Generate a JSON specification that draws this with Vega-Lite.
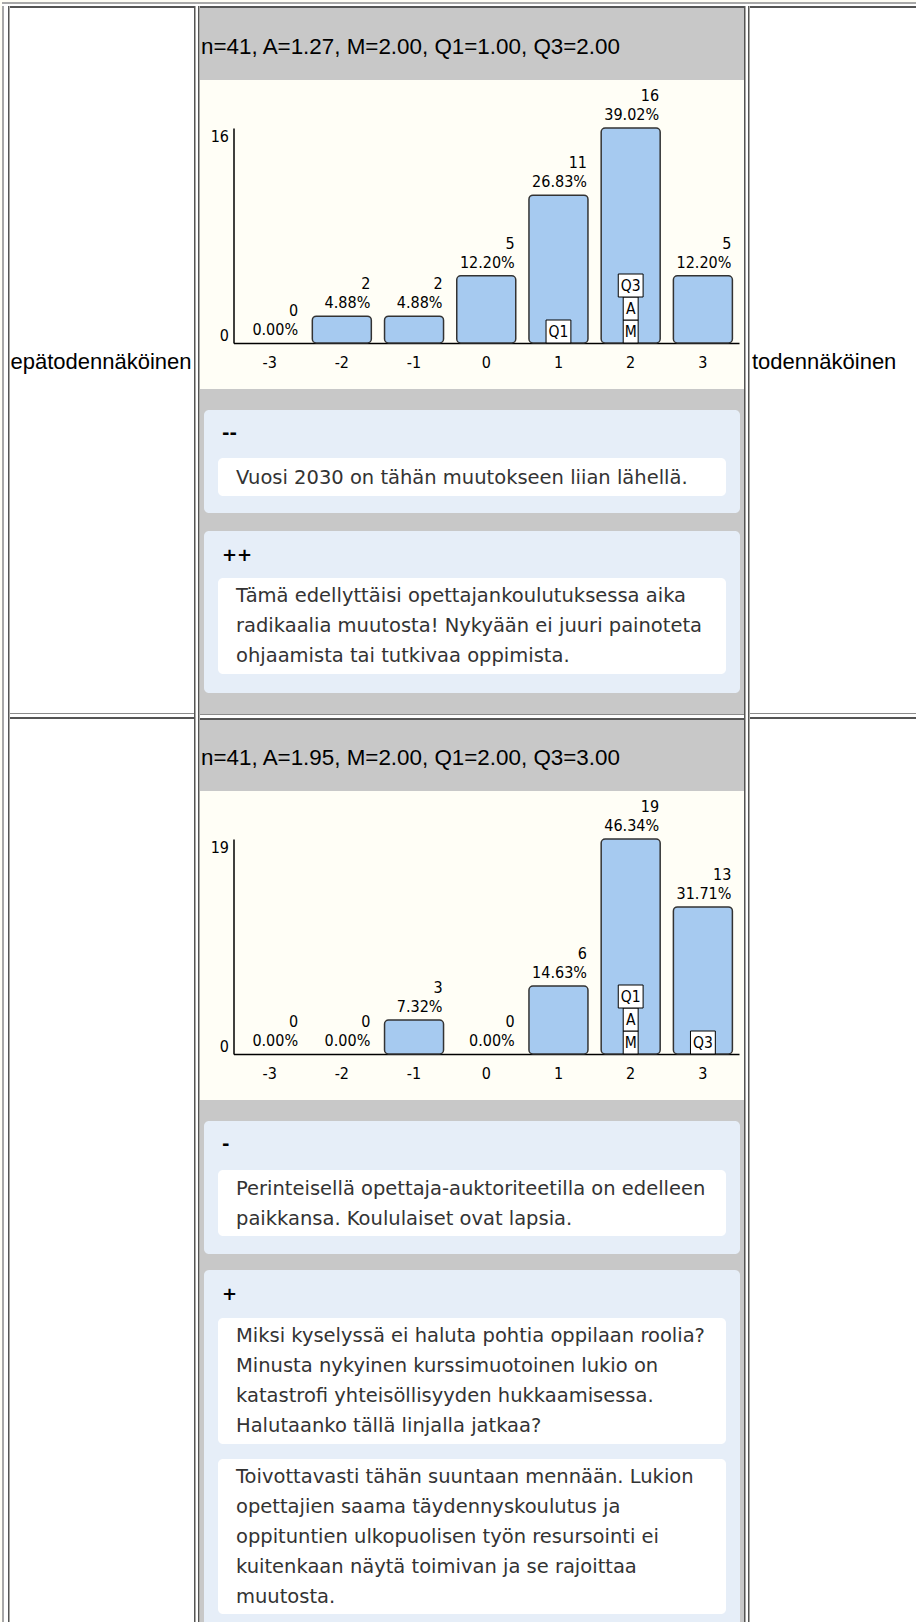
{
  "$schema": "https://vega.github.io/schema/vega-lite/v6.json",
  "background": "#fffef6",
  "padding": {"left": 2, "top": 2, "right": 0, "bottom": 0},
  "spacing": 0,
  "config": {
    "view": {"stroke": null},
    "font": "Liberation Sans",
    "axis": {"grid": false, "ticks": false, "domainColor": "#000000", "domainWidth": 1.5, "labelColor": "#000000", "labelFont": "Liberation Sans Narrow, DejaVu Sans Condensed, Liberation Sans", "labelFontSize": 16},
    "axisX": {"labelAngle": 0, "labelPadding": 11, "minExtent": 46, "maxExtent": 46},
    "axisY": {"labelPadding": 5, "labelFlush": true, "offset": -33.5, "minExtent": 0, "maxExtent": 0}
  },
  "datasets": {
    "ends": [
      {"side": "left", "label": "epätodennäköinen"},
      {"side": "right", "label": "todennäköinen"}
    ],
    "stats": [
      {"q": 1, "text": "n=41, A=1.27, M=2.00, Q1=1.00, Q3=2.00"},
      {"q": 2, "text": "n=41, A=1.95, M=2.00, Q1=2.00, Q3=3.00"}
    ],
    "hist": [
      {"q": 1, "value": "-3", "count": 0, "pct": "0.00%"},
      {"q": 1, "value": "-2", "count": 2, "pct": "4.88%"},
      {"q": 1, "value": "-1", "count": 2, "pct": "4.88%"},
      {"q": 1, "value": "0", "count": 5, "pct": "12.20%"},
      {"q": 1, "value": "1", "count": 11, "pct": "26.83%"},
      {"q": 1, "value": "2", "count": 16, "pct": "39.02%"},
      {"q": 1, "value": "3", "count": 5, "pct": "12.20%"},
      {"q": 2, "value": "-3", "count": 0, "pct": "0.00%"},
      {"q": 2, "value": "-2", "count": 0, "pct": "0.00%"},
      {"q": 2, "value": "-1", "count": 3, "pct": "7.32%"},
      {"q": 2, "value": "0", "count": 0, "pct": "0.00%"},
      {"q": 2, "value": "1", "count": 6, "pct": "14.63%"},
      {"q": 2, "value": "2", "count": 19, "pct": "46.34%"},
      {"q": 2, "value": "3", "count": 13, "pct": "31.71%"}
    ],
    "stat_marks": [
      {"q": 1, "value": "1", "marker": "Q1", "level": 0},
      {"q": 1, "value": "2", "marker": "M", "level": 0},
      {"q": 1, "value": "2", "marker": "A", "level": 1},
      {"q": 1, "value": "2", "marker": "Q3", "level": 2},
      {"q": 2, "value": "2", "marker": "M", "level": 0},
      {"q": 2, "value": "2", "marker": "A", "level": 1},
      {"q": 2, "value": "2", "marker": "Q1", "level": 2},
      {"q": 2, "value": "3", "marker": "Q3", "level": 0}
    ],
    "groups": [
      {"id": "g1", "q": 1, "sign": "--"},
      {"id": "g2", "q": 1, "sign": "++"},
      {"id": "g3", "q": 2, "sign": "-"},
      {"id": "g4", "q": 2, "sign": "+"}
    ],
    "comments": [
      {"id": "c1", "group": "g1", "text": "Vuosi 2030 on tähän muutokseen liian lähellä."},
      {"id": "c2", "group": "g2", "text": "Tämä edellyttäisi opettajankoulutuksessa aika\nradikaalia muutosta! Nykyään ei juuri painoteta\nohjaamista tai tutkivaa oppimista."},
      {"id": "c3", "group": "g3", "text": "Perinteisellä opettaja-auktoriteetilla on edelleen\npaikkansa. Koululaiset ovat lapsia."},
      {"id": "c4", "group": "g4", "text": "Miksi kyselyssä ei haluta pohtia oppilaan roolia?\nMinusta nykyinen kurssimuotoinen lukio on\nkatastrofi yhteisöllisyyden hukkaamisessa.\nHalutaanko tällä linjalla jatkaa?"},
      {"id": "c5", "group": "g4", "text": "Toivottavasti tähän suuntaan mennään. Lukion\nopettajien saama täydennyskoulutus ja\noppituntien ulkopuolisen työn resursointi ei\nkuitenkaan näytä toimivan ja se rajoittaa\nmuutosta."}
    ]
  },
  "vconcat": [
    {"width": 914, "height": 2, "view": {"fill": "#a8a8a8", "stroke": null}, "data": {"values": []}, "mark": "point"},
    {"width": 914, "height": 2, "view": {"fill": "#ffffff", "stroke": null}, "data": {"values": []}, "mark": "point"},
    {
      "spacing": 0,
      "hconcat": [
        {"width": 2, "height": 1616, "view": {"fill": "#a8a8a8", "stroke": null}, "data": {"values": []}, "mark": "point"},
        {"width": 4, "height": 1616, "view": {"fill": "#ffffff", "stroke": null}, "data": {"values": []}, "mark": "point"},
        {"width": 1.5, "height": 1616, "view": {"fill": "#555555", "stroke": null}, "data": {"values": []}, "mark": "point"},
        {
          "spacing": 0,
          "vconcat": [
            {"width": 184, "height": 2, "view": {"fill": "#555555", "stroke": null}, "data": {"values": []}, "mark": "point"},
            {"width": 184, "height": 705, "view": {"fill": "#ffffff", "stroke": null},
             "data": {"name": "ends"}, "transform": [{"filter": "datum.side == 'left'"}],
             "mark": {"type": "text", "align": "left", "baseline": "middle", "dx": 0.5, "dy": 1, "font": "Liberation Sans", "fontSize": 22, "color": "#000000"},
             "encoding": {"x": {"value": 0}, "text": {"field": "label"}}},
            {"width": 184, "height": 1, "view": {"fill": "#8c8c8c", "stroke": null}, "data": {"values": []}, "mark": "point"},
            {"width": 184, "height": 3, "view": {"fill": "#ffffff", "stroke": null}, "data": {"values": []}, "mark": "point"},
            {"width": 184, "height": 2, "view": {"fill": "#555555", "stroke": null}, "data": {"values": []}, "mark": "point"},
            {"width": 184, "height": 903, "view": {"fill": "#ffffff", "stroke": null}, "data": {"values": []}, "mark": "point"}
          ]
        },
        {"width": 1.5, "height": 1616, "view": {"fill": "#555555", "stroke": null}, "data": {"values": []}, "mark": "point"},
        {"width": 2, "height": 1616, "view": {"fill": "#ffffff", "stroke": null}, "data": {"values": []}, "mark": "point"},
        {"width": 1.5, "height": 1616, "view": {"fill": "#555555", "stroke": null}, "data": {"values": []}, "mark": "point"},
        {
          "spacing": 0,
          "vconcat": [
            {"width": 544, "height": 2, "view": {"fill": "#555555", "stroke": null}, "data": {"values": []}, "mark": "point"},
            {"width": 544, "height": 72, "view": {"fill": "#c8c8c8", "stroke": null},
             "data": {"name": "stats"}, "transform": [{"filter": "datum.q == 1"}],
             "mark": {"type": "text", "align": "left", "baseline": "middle", "dx": 1, "dy": 3, "font": "Liberation Sans", "fontSize": 22.4, "color": "#000000"},
             "encoding": {"x": {"value": 0}, "text": {"field": "text"}}},
            {"width": 544, "height": 7.5, "data": {"values": []}, "mark": "point"},
            {
              "width": 544, "height": 215,
              "encoding": {
                "x": {"field": "value", "type": "ordinal", "title": null, "scale": {"domain": ["-3", "-2", "-1", "0", "1", "2", "3"], "range": [33.5, 539], "paddingInner": 0.183, "paddingOuter": 0.0915}},
                "y": {"field": "count", "type": "quantitative", "title": null, "scale": {"domain": [0, 16], "nice": false}, "axis": {"values": [0, 16]}}
              },
              "layer": [
                {"data": {"name": "hist"}, "transform": [{"filter": "datum.q == 1 && datum.count > 0"}],
                 "mark": {"type": "bar", "color": "#a6caf0", "stroke": "#333333", "strokeWidth": 1.5, "cornerRadius": 4},
                 "encoding": {"y2": {"datum": 0}}},
                {"data": {"name": "hist"}, "transform": [{"filter": "datum.q == 1"}],
                 "mark": {"type": "text", "align": "right", "baseline": "middle", "dx": 28.5, "dy": -13, "font": "Liberation Sans Narrow, DejaVu Sans Condensed, Liberation Sans", "fontSize": 16, "color": "#000000"},
                 "encoding": {"text": {"field": "pct"}}},
                {"data": {"name": "hist"}, "transform": [{"filter": "datum.q == 1"}],
                 "mark": {"type": "text", "align": "right", "baseline": "middle", "dx": 28.5, "dy": -32, "font": "Liberation Sans Narrow, DejaVu Sans Condensed, Liberation Sans", "fontSize": 16, "color": "#000000"},
                 "encoding": {"text": {"field": "count", "type": "quantitative"}}},
                {"data": {"name": "stat_marks"}, "transform": [{"filter": "datum.q == 1 && datum.level == 0"}],
                 "mark": {"type": "point", "filled": true, "fill": "#ffffff", "stroke": "#000000", "strokeWidth": 1, "opacity": 1, "size": 529, "yOffset": -11.5},
                 "encoding": {"y": {"value": "height"}, "shape": {"field": "marker", "type": "nominal", "legend": null, "scale": {"domain": ["Q1", "Q3", "A", "M"], "range": ["M-1.08,-1L1.08,-1L1.08,1L-1.08,1Z", "M-1.08,-1L1.08,-1L1.08,1L-1.08,1Z", "M-0.65,-1L0.65,-1L0.65,1L-0.65,1Z", "M-0.65,-1L0.65,-1L0.65,1L-0.65,1Z"]}}}},
                {"data": {"name": "stat_marks"}, "transform": [{"filter": "datum.q == 1 && datum.level == 1"}],
                 "mark": {"type": "point", "filled": true, "fill": "#ffffff", "stroke": "#000000", "strokeWidth": 1, "opacity": 1, "size": 529, "yOffset": -34.5},
                 "encoding": {"y": {"value": "height"}, "shape": {"field": "marker", "type": "nominal", "legend": null}}},
                {"data": {"name": "stat_marks"}, "transform": [{"filter": "datum.q == 1 && datum.level == 2"}],
                 "mark": {"type": "point", "filled": true, "fill": "#ffffff", "stroke": "#000000", "strokeWidth": 1, "opacity": 1, "size": 529, "yOffset": -57.5},
                 "encoding": {"y": {"value": "height"}, "shape": {"field": "marker", "type": "nominal", "legend": null}}},
                {"data": {"name": "stat_marks"}, "transform": [{"filter": "datum.q == 1 && datum.level == 0"}],
                 "mark": {"type": "text", "align": "center", "baseline": "middle", "dy": -11.5, "font": "Liberation Sans Narrow, DejaVu Sans Condensed, Liberation Sans", "fontSize": 15.5, "color": "#000000"},
                 "encoding": {"y": {"value": "height"}, "text": {"field": "marker"}}},
                {"data": {"name": "stat_marks"}, "transform": [{"filter": "datum.q == 1 && datum.level == 1"}],
                 "mark": {"type": "text", "align": "center", "baseline": "middle", "dy": -34.5, "font": "Liberation Sans Narrow, DejaVu Sans Condensed, Liberation Sans", "fontSize": 15.5, "color": "#000000"},
                 "encoding": {"y": {"value": "height"}, "text": {"field": "marker"}}},
                {"data": {"name": "stat_marks"}, "transform": [{"filter": "datum.q == 1 && datum.level == 2"}],
                 "mark": {"type": "text", "align": "center", "baseline": "middle", "dy": -57.5, "font": "Liberation Sans Narrow, DejaVu Sans Condensed, Liberation Sans", "fontSize": 15.5, "color": "#000000"},
                 "encoding": {"y": {"value": "height"}, "text": {"field": "marker"}}}
              ]
            },
            {
              "width": 544, "height": 133, "view": {"fill": "#c8c8c8", "stroke": null},
              "layer": [
                {"data": {"name": "groups"}, "transform": [{"filter": "datum.id == 'g1'"}],
                 "mark": {"type": "rect", "color": "#e6eef8", "cornerRadius": 5, "xOffset": 4, "x2Offset": -4, "yOffset": 21, "y2Offset": -9},
                 "encoding": {"x": {"value": 0}, "x2": {"value": "width"}, "y": {"value": 0}, "y2": {"value": "height"}}},
                {"data": {"name": "groups"}, "transform": [{"filter": "datum.id == 'g1'"}],
                 "mark": {"type": "text", "align": "left", "baseline": "middle", "dx": 22, "dy": 45, "font": "DejaVu Sans", "fontWeight": "bold", "fontSize": 18, "color": "#000000"},
                 "encoding": {"x": {"value": 0}, "y": {"value": 0}, "text": {"field": "sign"}}},
                {"data": {"name": "comments"}, "transform": [{"filter": "datum.id == 'c1'"}],
                 "mark": {"type": "rect", "color": "#ffffff", "cornerRadius": 5, "xOffset": 18, "x2Offset": -18, "yOffset": 69, "y2Offset": -26},
                 "encoding": {"x": {"value": 0}, "x2": {"value": "width"}, "y": {"value": 0}, "y2": {"value": "height"}}},
                {"data": {"name": "comments"}, "transform": [{"filter": "datum.id == 'c1'"}],
                 "mark": {"type": "text", "align": "left", "baseline": "middle", "lineBreak": "\n", "lineHeight": 30, "dx": 36, "dy": 89, "font": "DejaVu Sans", "fontSize": 19.5, "color": "#333333"},
                 "encoding": {"x": {"value": 0}, "y": {"value": 0}, "text": {"field": "text"}}}
              ]
            },
            {
              "width": 544, "height": 192, "view": {"fill": "#c8c8c8", "stroke": null},
              "layer": [
                {"data": {"name": "groups"}, "transform": [{"filter": "datum.id == 'g2'"}],
                 "mark": {"type": "rect", "color": "#e6eef8", "cornerRadius": 5, "xOffset": 4, "x2Offset": -4, "yOffset": 9, "y2Offset": -21},
                 "encoding": {"x": {"value": 0}, "x2": {"value": "width"}, "y": {"value": 0}, "y2": {"value": "height"}}},
                {"data": {"name": "groups"}, "transform": [{"filter": "datum.id == 'g2'"}],
                 "mark": {"type": "text", "align": "left", "baseline": "middle", "dx": 22, "dy": 34, "font": "DejaVu Sans", "fontWeight": "bold", "fontSize": 18, "color": "#000000"},
                 "encoding": {"x": {"value": 0}, "y": {"value": 0}, "text": {"field": "sign"}}},
                {"data": {"name": "comments"}, "transform": [{"filter": "datum.id == 'c2'"}],
                 "mark": {"type": "rect", "color": "#ffffff", "cornerRadius": 5, "xOffset": 18, "x2Offset": -18, "yOffset": 56, "y2Offset": -40},
                 "encoding": {"x": {"value": 0}, "x2": {"value": "width"}, "y": {"value": 0}, "y2": {"value": "height"}}},
                {"data": {"name": "comments"}, "transform": [{"filter": "datum.id == 'c2'"}],
                 "mark": {"type": "text", "align": "left", "baseline": "middle", "lineBreak": "\n", "lineHeight": 30, "dx": 36, "dy": 74, "font": "DejaVu Sans", "fontSize": 19.5, "color": "#333333"},
                 "encoding": {"x": {"value": 0}, "y": {"value": 0}, "text": {"field": "text"}}}
              ]
            },
            {"width": 544, "height": 1, "view": {"fill": "#8c8c8c", "stroke": null}, "data": {"values": []}, "mark": "point"},
            {"width": 544, "height": 3, "view": {"fill": "#ffffff", "stroke": null}, "data": {"values": []}, "mark": "point"},
            {"width": 544, "height": 2, "view": {"fill": "#555555", "stroke": null}, "data": {"values": []}, "mark": "point"},
            {"width": 544, "height": 71, "view": {"fill": "#c8c8c8", "stroke": null},
             "data": {"name": "stats"}, "transform": [{"filter": "datum.q == 2"}],
             "mark": {"type": "text", "align": "left", "baseline": "middle", "dx": 1, "dy": 2, "font": "Liberation Sans", "fontSize": 22.4, "color": "#000000"},
             "encoding": {"x": {"value": 0}, "text": {"field": "text"}}},
            {"width": 544, "height": 7.5, "data": {"values": []}, "mark": "point"},
            {
              "width": 544, "height": 215,
              "encoding": {
                "x": {"field": "value", "type": "ordinal", "title": null, "scale": {"domain": ["-3", "-2", "-1", "0", "1", "2", "3"], "range": [33.5, 539], "paddingInner": 0.183, "paddingOuter": 0.0915}},
                "y": {"field": "count", "type": "quantitative", "title": null, "scale": {"domain": [0, 19], "nice": false}, "axis": {"values": [0, 19]}}
              },
              "layer": [
                {"data": {"name": "hist"}, "transform": [{"filter": "datum.q == 2 && datum.count > 0"}],
                 "mark": {"type": "bar", "color": "#a6caf0", "stroke": "#333333", "strokeWidth": 1.5, "cornerRadius": 4},
                 "encoding": {"y2": {"datum": 0}}},
                {"data": {"name": "hist"}, "transform": [{"filter": "datum.q == 2"}],
                 "mark": {"type": "text", "align": "right", "baseline": "middle", "dx": 28.5, "dy": -13, "font": "Liberation Sans Narrow, DejaVu Sans Condensed, Liberation Sans", "fontSize": 16, "color": "#000000"},
                 "encoding": {"text": {"field": "pct"}}},
                {"data": {"name": "hist"}, "transform": [{"filter": "datum.q == 2"}],
                 "mark": {"type": "text", "align": "right", "baseline": "middle", "dx": 28.5, "dy": -32, "font": "Liberation Sans Narrow, DejaVu Sans Condensed, Liberation Sans", "fontSize": 16, "color": "#000000"},
                 "encoding": {"text": {"field": "count", "type": "quantitative"}}},
                {"data": {"name": "stat_marks"}, "transform": [{"filter": "datum.q == 2 && datum.level == 0"}],
                 "mark": {"type": "point", "filled": true, "fill": "#ffffff", "stroke": "#000000", "strokeWidth": 1, "opacity": 1, "size": 529, "yOffset": -11.5},
                 "encoding": {"y": {"value": "height"}, "shape": {"field": "marker", "type": "nominal", "legend": null, "scale": {"domain": ["Q1", "Q3", "A", "M"], "range": ["M-1.08,-1L1.08,-1L1.08,1L-1.08,1Z", "M-1.08,-1L1.08,-1L1.08,1L-1.08,1Z", "M-0.65,-1L0.65,-1L0.65,1L-0.65,1Z", "M-0.65,-1L0.65,-1L0.65,1L-0.65,1Z"]}}}},
                {"data": {"name": "stat_marks"}, "transform": [{"filter": "datum.q == 2 && datum.level == 1"}],
                 "mark": {"type": "point", "filled": true, "fill": "#ffffff", "stroke": "#000000", "strokeWidth": 1, "opacity": 1, "size": 529, "yOffset": -34.5},
                 "encoding": {"y": {"value": "height"}, "shape": {"field": "marker", "type": "nominal", "legend": null}}},
                {"data": {"name": "stat_marks"}, "transform": [{"filter": "datum.q == 2 && datum.level == 2"}],
                 "mark": {"type": "point", "filled": true, "fill": "#ffffff", "stroke": "#000000", "strokeWidth": 1, "opacity": 1, "size": 529, "yOffset": -57.5},
                 "encoding": {"y": {"value": "height"}, "shape": {"field": "marker", "type": "nominal", "legend": null}}},
                {"data": {"name": "stat_marks"}, "transform": [{"filter": "datum.q == 2 && datum.level == 0"}],
                 "mark": {"type": "text", "align": "center", "baseline": "middle", "dy": -11.5, "font": "Liberation Sans Narrow, DejaVu Sans Condensed, Liberation Sans", "fontSize": 15.5, "color": "#000000"},
                 "encoding": {"y": {"value": "height"}, "text": {"field": "marker"}}},
                {"data": {"name": "stat_marks"}, "transform": [{"filter": "datum.q == 2 && datum.level == 1"}],
                 "mark": {"type": "text", "align": "center", "baseline": "middle", "dy": -34.5, "font": "Liberation Sans Narrow, DejaVu Sans Condensed, Liberation Sans", "fontSize": 15.5, "color": "#000000"},
                 "encoding": {"y": {"value": "height"}, "text": {"field": "marker"}}},
                {"data": {"name": "stat_marks"}, "transform": [{"filter": "datum.q == 2 && datum.level == 2"}],
                 "mark": {"type": "text", "align": "center", "baseline": "middle", "dy": -57.5, "font": "Liberation Sans Narrow, DejaVu Sans Condensed, Liberation Sans", "fontSize": 15.5, "color": "#000000"},
                 "encoding": {"y": {"value": "height"}, "text": {"field": "marker"}}}
              ]
            },
            {
              "width": 544, "height": 162, "view": {"fill": "#c8c8c8", "stroke": null},
              "layer": [
                {"data": {"name": "groups"}, "transform": [{"filter": "datum.id == 'g3'"}],
                 "mark": {"type": "rect", "color": "#e6eef8", "cornerRadius": 5, "xOffset": 4, "x2Offset": -4, "yOffset": 21, "y2Offset": -8},
                 "encoding": {"x": {"value": 0}, "x2": {"value": "width"}, "y": {"value": 0}, "y2": {"value": "height"}}},
                {"data": {"name": "groups"}, "transform": [{"filter": "datum.id == 'g3'"}],
                 "mark": {"type": "text", "align": "left", "baseline": "middle", "dx": 22, "dy": 45, "font": "DejaVu Sans", "fontWeight": "bold", "fontSize": 18, "color": "#000000"},
                 "encoding": {"x": {"value": 0}, "y": {"value": 0}, "text": {"field": "sign"}}},
                {"data": {"name": "comments"}, "transform": [{"filter": "datum.id == 'c3'"}],
                 "mark": {"type": "rect", "color": "#ffffff", "cornerRadius": 5, "xOffset": 18, "x2Offset": -18, "yOffset": 70, "y2Offset": -26},
                 "encoding": {"x": {"value": 0}, "x2": {"value": "width"}, "y": {"value": 0}, "y2": {"value": "height"}}},
                {"data": {"name": "comments"}, "transform": [{"filter": "datum.id == 'c3'"}],
                 "mark": {"type": "text", "align": "left", "baseline": "middle", "lineBreak": "\n", "lineHeight": 30, "dx": 36, "dy": 89, "font": "DejaVu Sans", "fontSize": 19.5, "color": "#333333"},
                 "encoding": {"x": {"value": 0}, "y": {"value": 0}, "text": {"field": "text"}}}
              ]
            },
            {
              "width": 544, "height": 361, "view": {"fill": "#c8c8c8", "stroke": null},
              "layer": [
                {"data": {"name": "groups"}, "transform": [{"filter": "datum.id == 'g4'"}],
                 "mark": {"type": "rect", "color": "#e6eef8", "cornerRadiusTopLeft": 5, "cornerRadiusTopRight": 5, "xOffset": 4, "x2Offset": -4, "yOffset": 8, "y2Offset": 0},
                 "encoding": {"x": {"value": 0}, "x2": {"value": "width"}, "y": {"value": 0}, "y2": {"value": "height"}}},
                {"data": {"name": "groups"}, "transform": [{"filter": "datum.id == 'g4'"}],
                 "mark": {"type": "text", "align": "left", "baseline": "middle", "dx": 22, "dy": 33, "font": "DejaVu Sans", "fontWeight": "bold", "fontSize": 18, "color": "#000000"},
                 "encoding": {"x": {"value": 0}, "y": {"value": 0}, "text": {"field": "sign"}}},
                {"data": {"name": "comments"}, "transform": [{"filter": "datum.id == 'c4'"}],
                 "mark": {"type": "rect", "color": "#ffffff", "cornerRadius": 5, "xOffset": 18, "x2Offset": -18, "yOffset": 56, "y2Offset": -179},
                 "encoding": {"x": {"value": 0}, "x2": {"value": "width"}, "y": {"value": 0}, "y2": {"value": "height"}}},
                {"data": {"name": "comments"}, "transform": [{"filter": "datum.id == 'c4'"}],
                 "mark": {"type": "text", "align": "left", "baseline": "middle", "lineBreak": "\n", "lineHeight": 30, "dx": 36, "dy": 74, "font": "DejaVu Sans", "fontSize": 19.5, "color": "#333333"},
                 "encoding": {"x": {"value": 0}, "y": {"value": 0}, "text": {"field": "text"}}},
                {"data": {"name": "comments"}, "transform": [{"filter": "datum.id == 'c5'"}],
                 "mark": {"type": "rect", "color": "#ffffff", "cornerRadius": 5, "xOffset": 18, "x2Offset": -18, "yOffset": 197, "y2Offset": -9},
                 "encoding": {"x": {"value": 0}, "x2": {"value": "width"}, "y": {"value": 0}, "y2": {"value": "height"}}},
                {"data": {"name": "comments"}, "transform": [{"filter": "datum.id == 'c5'"}],
                 "mark": {"type": "text", "align": "left", "baseline": "middle", "lineBreak": "\n", "lineHeight": 30, "dx": 36, "dy": 215, "font": "DejaVu Sans", "fontSize": 19.5, "color": "#333333"},
                 "encoding": {"x": {"value": 0}, "y": {"value": 0}, "text": {"field": "text"}}}
              ]
            }
          ]
        },
        {"width": 1.5, "height": 1616, "view": {"fill": "#555555", "stroke": null}, "data": {"values": []}, "mark": "point"},
        {"width": 2, "height": 1616, "view": {"fill": "#ffffff", "stroke": null}, "data": {"values": []}, "mark": "point"},
        {"width": 1.5, "height": 1616, "view": {"fill": "#555555", "stroke": null}, "data": {"values": []}, "mark": "point"},
        {
          "spacing": 0,
          "vconcat": [
            {"width": 168, "height": 2, "view": {"fill": "#555555", "stroke": null}, "data": {"values": []}, "mark": "point"},
            {"width": 168, "height": 705, "view": {"fill": "#ffffff", "stroke": null},
             "data": {"name": "ends"}, "transform": [{"filter": "datum.side == 'right'"}],
             "mark": {"type": "text", "align": "left", "baseline": "middle", "dx": 2, "dy": 1, "font": "Liberation Sans", "fontSize": 22, "color": "#000000"},
             "encoding": {"x": {"value": 0}, "text": {"field": "label"}}},
            {"width": 168, "height": 1, "view": {"fill": "#8c8c8c", "stroke": null}, "data": {"values": []}, "mark": "point"},
            {"width": 168, "height": 3, "view": {"fill": "#ffffff", "stroke": null}, "data": {"values": []}, "mark": "point"},
            {"width": 168, "height": 2, "view": {"fill": "#555555", "stroke": null}, "data": {"values": []}, "mark": "point"},
            {"width": 168, "height": 903, "view": {"fill": "#ffffff", "stroke": null}, "data": {"values": []}, "mark": "point"}
          ]
        }
      ]
    }
  ]
}
